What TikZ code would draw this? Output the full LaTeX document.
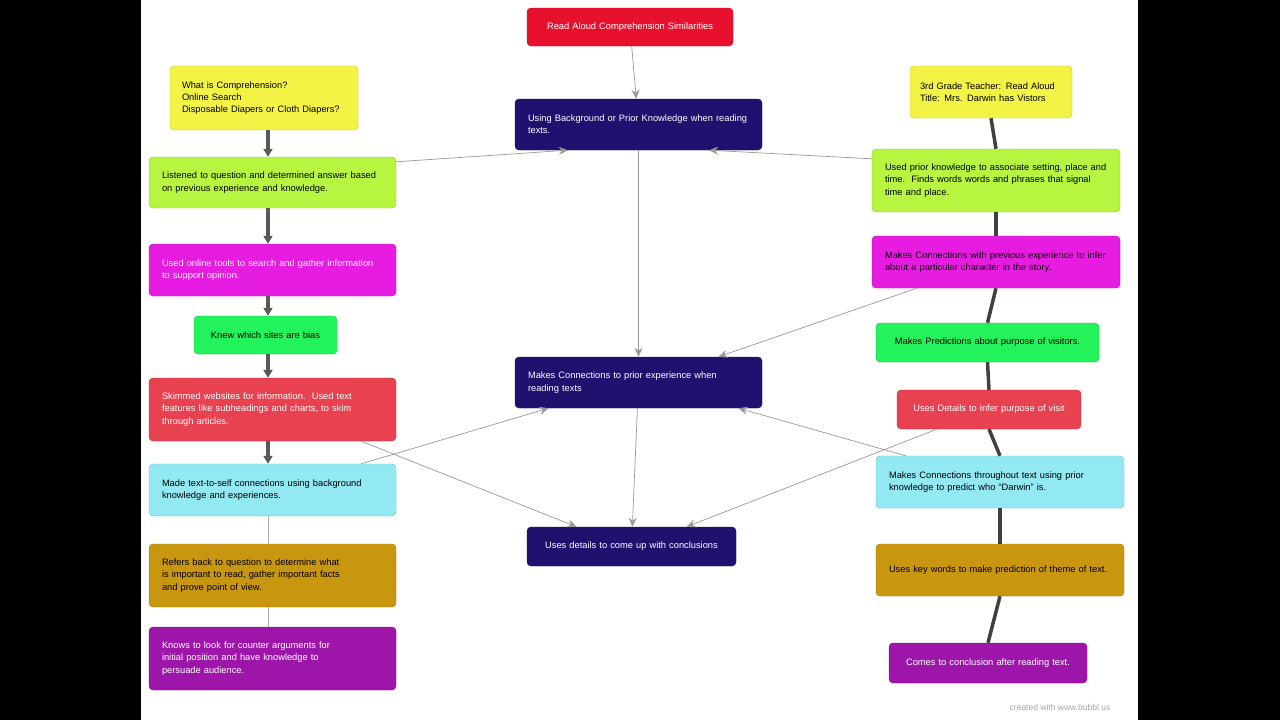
\documentclass[tikz,border=0pt]{standalone}
\usepackage{fontspec}
\setmainfont{Liberation Sans}
\usepackage[none]{hyphenat}
\usetikzlibrary{arrows.meta}

\definecolor{tred}{HTML}{E8112D}
\definecolor{navy}{HTML}{21106E}
\definecolor{yel}{HTML}{F3F345}
\definecolor{lime}{HTML}{B8F541}
\definecolor{mag}{HTML}{E61CE0}
\definecolor{grn}{HTML}{22F25C}
\definecolor{rose}{HTML}{E8414F}
\definecolor{cya}{HTML}{93E9F2}
\definecolor{gold}{HTML}{C9960F}
\definecolor{purp}{HTML}{9D15A9}

\begin{document}
\begin{tikzpicture}[x=1pt,y=-1pt,
	every node/.style={font=\fontsize{9.3}{12.2}\selectfont},
	card/.style n args={3}{rounded corners=4pt,fill=#1,draw=#1!80!black,
		minimum width=#2,minimum height=#3,text width=#2-26,align=left,inner sep=0pt},
	mid/.style={align=center},
	link/.style={draw=gray!80,line width=0.7pt,-{Stealth[length=9pt,width=8pt]}},
	lspine/.style={draw=gray!70!black,line width=3.5pt,-{Triangle[length=8pt,width=9pt]}},
	rspine/.style={draw=black!75,line width=3.5pt}]
	% frame
	\fill[black] (0,0) rectangle (141,720);
	\fill[black] (1138,0) rectangle (1280,720);
	\fill[white] (141,0) rectangle (1138,720);
	\useasboundingbox (0,0) rectangle (1280,720);

	% centre
	\node[card={tred}{206}{38},mid,text=white] (title) at (630,27) {Read Aloud Comprehension Similarities};
	\node[card={navy}{247}{51},text=white] (bkg) at (638.5,124.5) {Using Background or Prior Knowledge when reading texts.};
	\node[card={navy}{247}{51},text=white] (conn) at (638.5,382.5) {Makes Connections to prior experience when reading texts};
	\node[card={navy}{209}{39},mid,text=white] (concl) at (631.5,546.5) {Uses details to come up with conclusions};

	% left column
	\coordinate (spine) at (268,0);
	\node[card={yel}{188}{64},text width=164] (l0) at (264,98) {What is Comprehension?\\Online Search\\Disposable Diapers or Cloth Diapers?};
	\node[card={lime}{247}{51}] (l1) at (272.5,182.5) {Listened to question and determined answer based on previous experience and knowledge.};
	\node[card={mag}{247}{52},text=white] (l2) at (272.5,270) {Used online tools to search and gather information to support opinion.};
	\node[card={grn}{143}{38},mid] (l3) at (265.5,335) {Knew which sites are bias};
	\node[card={rose}{247}{63},text=white] (l4) at (272.5,409.5) {Skimmed websites for information.\ \ Used text features like subheadings and charts, to skim through articles.};
	\node[card={cya}{247}{52}] (l5) at (272.5,490) {Made text-to-self connections using background knowledge and experiences.};
	\node[card={gold}{247}{63}] (l6) at (272.5,575.5) {Refers back to question to determine what\\is important to read, gather important facts\\and prove point of view.};
	\node[card={purp}{247}{63},text=white] (l7) at (272.5,658.5) {Knows to look for counter arguments for\\initial position and have knowledge to\\persuade audience.};

	% right column
	\node[card={yel}{162}{52},text width=142] (r0) at (991,92) {3rd Grade Teacher: Read Aloud\\Title: Mrs. Darwin has Vistors};
	\node[card={lime}{248}{63}] (r1) at (996,180.5) {Used prior knowledge to associate setting, place and time.\ \ Finds words words and phrases that signal time and place.};
	\node[card={mag}{248}{52}] (r2) at (996,262) {Makes Connections with previous experience to infer about a particular character in the story.};
	\node[card={grn}{223}{39},mid] (r3) at (987.5,342.5) {Makes Predictions about purpose of visitors.};
	\node[card={rose}{184}{39},mid,text=white] (r4) at (989,409.5) {Uses Details to infer purpose of visit};
	\node[card={cya}{248}{52}] (r5) at (1000,482) {Makes Connections throughout text using prior knowledge to predict who ``Darwin'' is.};
	\node[card={gold}{248}{52}] (r6) at (1000,570) {Uses key words to make prediction of theme of text.};
	\node[card={purp}{198}{40},mid,text=white] (r7) at (988,663) {Comes to conclusion after reading text.};

	% spines
	\foreach \a/\b in {l0/l1,l1/l2,l2/l3,l3/l4,l4/l5}
		\draw[lspine] (\a.south -| spine) -- (\b.north -| spine);
	\foreach \a/\b in {l5/l6,l6/l7}
		\draw[gray!60,line width=0.6pt] (\a.south -| spine) -- (\b.north -| spine);
	\foreach \a/\b in {r0/r1,r1/r2,r2/r3,r3/r4,r4/r5,r5/r6,r6/r7}
		\draw[rspine] (\a.south) -- (\b.north);

	% links
	\draw[link] (title) -- (bkg);
	\draw[link] (l1.north east) ++(0,5) -- (bkg.200);
	\draw[link] (r1.north west) ++(0,10) -- (bkg.340);
	\draw[link] (bkg) -- (conn);
	\draw[link] (r2.south west) ++(45,0) -- ([xshift=80pt]conn.north);
	\draw[link] (l5.north east) ++(-35,0) -- ([xshift=-90pt]conn.south);
	\draw[link] (r5.north west) ++(30,0) -- ([xshift=100pt]conn.south);
	\draw[link] (conn) -- (concl);
	\draw[link] (l4.south east) ++(-35,0) -- ([xshift=-55pt]concl.north);
	\draw[link] (r4.south west) ++(40,0) -- ([xshift=55pt]concl.north);

	\node[text=gray!70,font=\fontsize{8.5}{10}\selectfont] (credit) at (1060,707) {created with www.bubbl.us};
\end{tikzpicture}
\end{document}
